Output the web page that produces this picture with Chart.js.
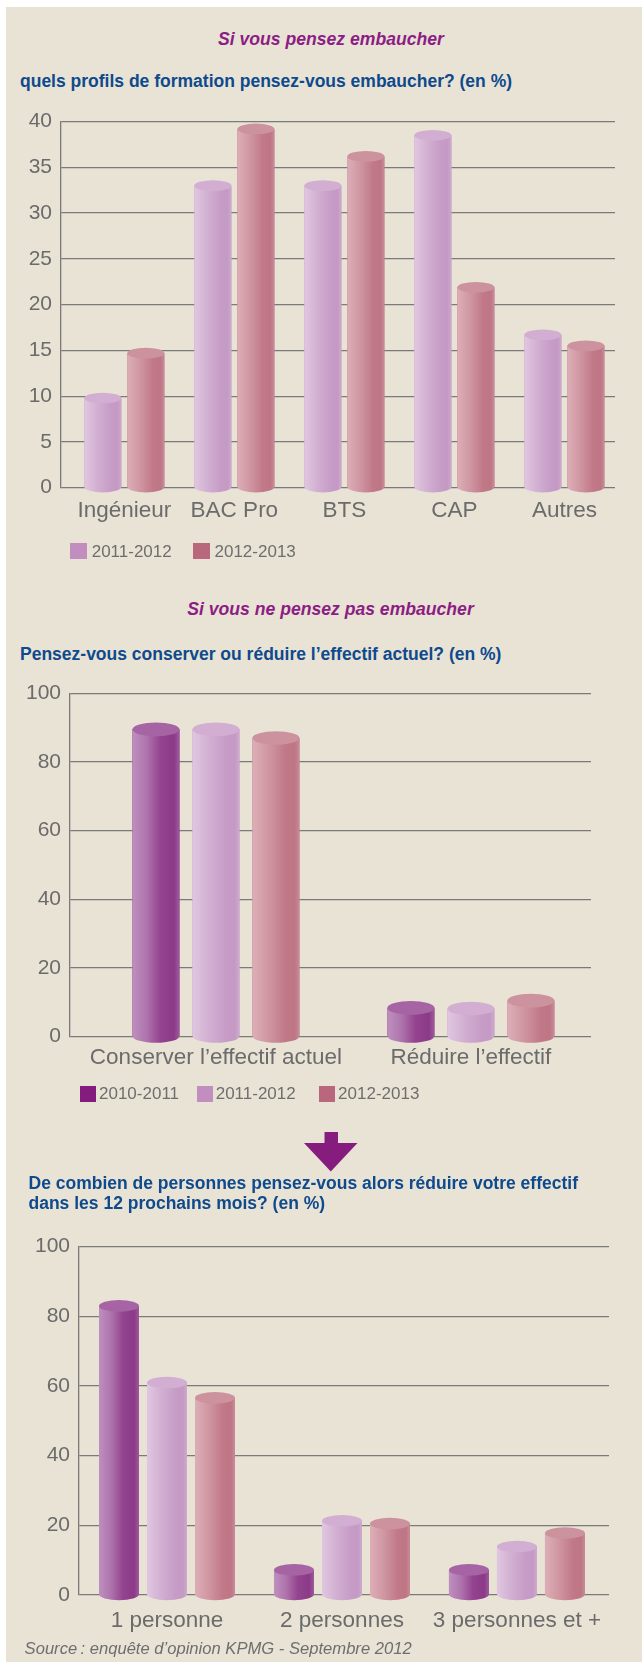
<!DOCTYPE html>
<html lang="fr">
<head>
<meta charset="utf-8">
<title>Embauches et effectifs</title>
<script src="https://cdn.jsdelivr.net/npm/chart.js@4.4.1/dist/chart.umd.min.js"></script>
<style>
  html, body { margin: 0; padding: 0; }
  body {
    position: relative; width: 642px; height: 1664px; overflow: hidden;
    background: #ffffff; font-family: "Liberation Sans", Arial, sans-serif;
  }
  #panel { position: absolute; left: 6px; top: 7px; width: 636px; height: 1655px; background: #E9E3D6; }
  .txt { position: absolute; white-space: nowrap; line-height: 1; }
  .kicker { color: #8C1D84; font-weight: bold; font-style: italic; font-size: 17.6px; transform: translateX(-50%); }
  .question { color: #0E4A8C; font-weight: bold; font-size: 17.5px; }
  .question.two { line-height: 20px; }
  .legend-box { position: absolute; width: 16.4px; height: 16px; }
  .legend-label { color: #6E6E6E; font-size: 17px; }
  .source { color: #6E6E6E; font-style: italic; font-size: 16.6px; }
  canvas { position: absolute; left: 0; }
  svg { position: absolute; left: 0; top: 0; }
</style>
</head>
<body>
<div id="panel"></div>

<div class="txt kicker" style="left:331px; top:30.6px;">Si vous pensez embaucher</div>
<div class="txt question" style="left:20px; top:73.1px;">quels profils de formation pensez-vous embaucher? (en %)</div>
<canvas id="chartProfils"></canvas>

<div class="txt kicker" style="left:330.5px; top:601.4px;">Si vous ne pensez pas embaucher</div>
<div class="txt question" style="left:20px; top:646.4px;">Pensez-vous conserver ou réduire l’effectif actuel? (en %)</div>
<canvas id="chartEffectif"></canvas>

<svg width="642" height="1664" viewBox="0 0 642 1664">
  <rect x="324.5" y="1132" width="13.5" height="11.5" fill="#861C7E"/>
  <polygon points="304,1143 357.5,1143 330.8,1171.5" fill="#861C7E"/>
</svg>

<div class="txt question two" style="left:28.5px; top:1172.5px;">De combien de personnes pensez-vous alors réduire votre effectif<br>dans les 12 prochains mois? (en %)</div>
<canvas id="chartReduction"></canvas>

<div class="txt source" style="left:24.6px; top:1640.6px;">Source&#8239;: enquête d’opinion KPMG - Septembre 2012</div>

<script>
// ---- Survey figures (percentages) ----
const seriesNames = ['2010-2011', '2011-2012', '2012-2013'];

// Hiring profiles
const profilCategories = ['Ingénieur', 'BAC Pro', 'BTS', 'CAP', 'Autres'];
const profil2011 = [9.8, 33, 33, 38.5, 16.7];
const profil2012 = [14.7, 39.2, 36.2, 21.9, 15.5];
const profilTicks = [0, 5, 10, 15, 20, 25, 30, 35, 40];

// Keep or reduce the current workforce
const effectifCategories = ['Conserver l’effectif actuel', 'Réduire l’effectif'];
const effectif2010 = [89.5, 8.4];
const effectif2011 = [89.5, 8.2];
const effectif2012 = [87, 10.5];

// Size of the planned reduction over the next 12 months
const reductionCategories = ['1 personne', '2 personnes', '3 personnes et +'];
const reduction2010 = [83, 7.2, 7.2];
const reduction2011 = [61, 21.3, 13.9];
const reduction2012 = [56.6, 20.5, 17.8];

const percentTicks = [0, 20, 40, 60, 80, 100];

// ---- Styling ----
const seriesStyle = {
  '2010-2011': {
    swatch: '#841C7E', top: '#A664A4',
    stops: [[0, '#BE90BE'], [0.3, '#AE74AD'], [0.6, '#94438F'], [0.88, '#8B3A88'], [1, '#9E5A9C']]
  },
  '2011-2012': {
    swatch: '#C28DBF', top: '#D2AFD2',
    stops: [[0, '#E0C7E0'], [0.35, '#D2B0D2'], [0.7, '#C79DC7'], [0.9, '#C49AC4'], [1, '#CEAACE']]
  },
  '2012-2013': {
    swatch: '#B9677D', top: '#CC929E',
    stops: [[0, '#DDAEB7'], [0.35, '#CF96A2'], [0.7, '#C17887'], [0.9, '#BE7585'], [1, '#C98C99']]
  }
};

const axisGrey = '#7A7A7A';
const tickGrey = '#6B6B6B';

// Cylinders: paints each bar element as a shaded column with elliptic caps
const cylinderPlugin = {
  id: 'cylinders',
  afterDatasetsDraw(chart) {
    const ctx = chart.ctx;
    chart.data.datasets.forEach((ds, di) => {
      const meta = chart.getDatasetMeta(di);
      if (meta.hidden) return;
      const style = seriesStyle[ds.label];
      meta.data.forEach(bar => {
        const { x, y, base, width } = bar.getProps(['x', 'y', 'base', 'width'], true);
        const rx = width / 2;
        const ry = width * 0.145;
        const left = x - rx, right = x + rx;
        const grad = ctx.createLinearGradient(left, 0, right, 0);
        style.stops.forEach(([o, c]) => grad.addColorStop(o, c));
        ctx.save();
        ctx.beginPath();
        ctx.moveTo(left, y);
        ctx.lineTo(left, base);
        ctx.ellipse(x, base, rx, ry, 0, Math.PI, 0, true);
        ctx.lineTo(right, y);
        ctx.closePath();
        ctx.fillStyle = grad;
        ctx.fill();
        ctx.beginPath();
        ctx.ellipse(x, y, rx, ry, 0, 0, Math.PI * 2);
        ctx.fillStyle = style.top;
        ctx.fill();
        ctx.restore();
      });
    });
  }
};

function buildChart(id, spec) {
  const canvas = document.getElementById(id);
  const h = spec.frameBottom - spec.frameTop;
  canvas.width = 642;
  canvas.height = h;
  canvas.style.top = spec.frameTop + 'px';

  const datasets = spec.series.map(s => ({
    label: s.name,
    data: s.values.map((v, i) => ({ x: i, y: v })),
    backgroundColor: seriesStyle[s.name].swatch,
    borderWidth: 0,
    categoryPercentage: spec.categoryPercentage,
    barPercentage: spec.barPercentage
  }));

  return new Chart(canvas, {
    type: 'bar',
    data: { datasets },
    plugins: [cylinderPlugin],
    options: {
      responsive: false,
      animation: false,
      devicePixelRatio: 1,
      layout: { padding: { top: spec.plotTop - spec.frameTop, right: 642 - spec.plotRight, left: 0, bottom: 0 } },
      plugins: { legend: { display: false }, tooltip: { enabled: false } },
      scales: {
        x: {
          type: 'linear',
          offset: false,
          min: spec.xMin,
          max: spec.xMax,
          grid: { display: false },
          border: { display: false },
          afterBuildTicks: scale => { scale.ticks = spec.categories.map((_, i) => ({ value: i })); },
          afterFit: scale => { scale.height = spec.frameBottom - spec.plotBottom; },
          ticks: {
            autoSkip: false, maxRotation: 0, minRotation: 0,
            padding: spec.labelPadding,
            color: tickGrey,
            font: { family: 'Liberation Sans', size: 22.5, lineHeight: 1 },
            callback: v => spec.categories[v]
          }
        },
        y: {
          min: spec.ticks[0],
          max: spec.ticks[spec.ticks.length - 1],
          afterBuildTicks: scale => { scale.ticks = spec.ticks.map(v => ({ value: v })); },
          afterFit: scale => { scale.width = spec.plotLeft; },
          grid: { color: axisGrey, lineWidth: 1.3, drawTicks: false },
          border: { display: true, color: axisGrey, width: 1.3 },
          ticks: {
            padding: 9,
            color: tickGrey,
            font: { family: 'Liberation Sans', size: 21 }
          }
        }
      }
    }
  });
}

buildChart('chartProfils', {
  categories: profilCategories,
  series: [
    { name: seriesNames[1], values: profil2011 },
    { name: seriesNames[2], values: profil2012 }
  ],
  ticks: profilTicks,
  frameTop: 100, frameBottom: 540,
  plotLeft: 61, plotRight: 615, plotTop: 120.7, plotBottom: 487.7,
  xMin: -0.576, xMax: 4.46,
  categoryPercentage: 0.782, barPercentage: 0.86,
  labelPadding: 3.5
});

buildChart('chartEffectif', {
  categories: effectifCategories,
  series: [
    { name: seriesNames[0], values: effectif2010 },
    { name: seriesNames[1], values: effectif2011 },
    { name: seriesNames[2], values: effectif2012 }
  ],
  ticks: percentTicks,
  frameTop: 670, frameBottom: 1080,
  plotLeft: 70, plotRight: 591, plotTop: 693.3, plotBottom: 1036.7,
  xMin: -0.5725, xMax: 1.471,
  categoryPercentage: 0.706, barPercentage: 0.783,
  labelPadding: 2
});

buildChart('chartReduction', {
  categories: reductionCategories,
  series: [
    { name: seriesNames[0], values: reduction2010 },
    { name: seriesNames[1], values: reduction2011 },
    { name: seriesNames[2], values: reduction2012 }
  ],
  ticks: percentTicks,
  frameTop: 1225, frameBottom: 1640,
  plotLeft: 79, plotRight: 609, plotTop: 1246.7, plotBottom: 1595,
  xMin: -0.503, xMax: 2.526,
  categoryPercentage: 0.823, barPercentage: 0.833,
  labelPadding: 6.5
});

// Legends built from the series names
function buildLegend(names, lefts, boxTop, textOffset) {
  names.forEach((name, i) => {
    const box = document.createElement('div');
    box.className = 'legend-box';
    box.style.left = lefts[i] + 'px';
    box.style.top = boxTop + 'px';
    box.style.background = seriesStyle[name].swatch;
    document.body.appendChild(box);
    const label = document.createElement('div');
    label.className = 'txt legend-label';
    label.textContent = name;
    label.style.left = (lefts[i] + textOffset) + 'px';
    label.style.top = (boxTop + 8 - 8.3) + 'px';
    document.body.appendChild(label);
  });
}
buildLegend([seriesNames[1], seriesNames[2]], [70.4, 193.2], 543.3, 21.3);
buildLegend(seriesNames, [79.8, 196.5, 318.9], 1085.7, 19.2);
</script>
</body>
</html>
